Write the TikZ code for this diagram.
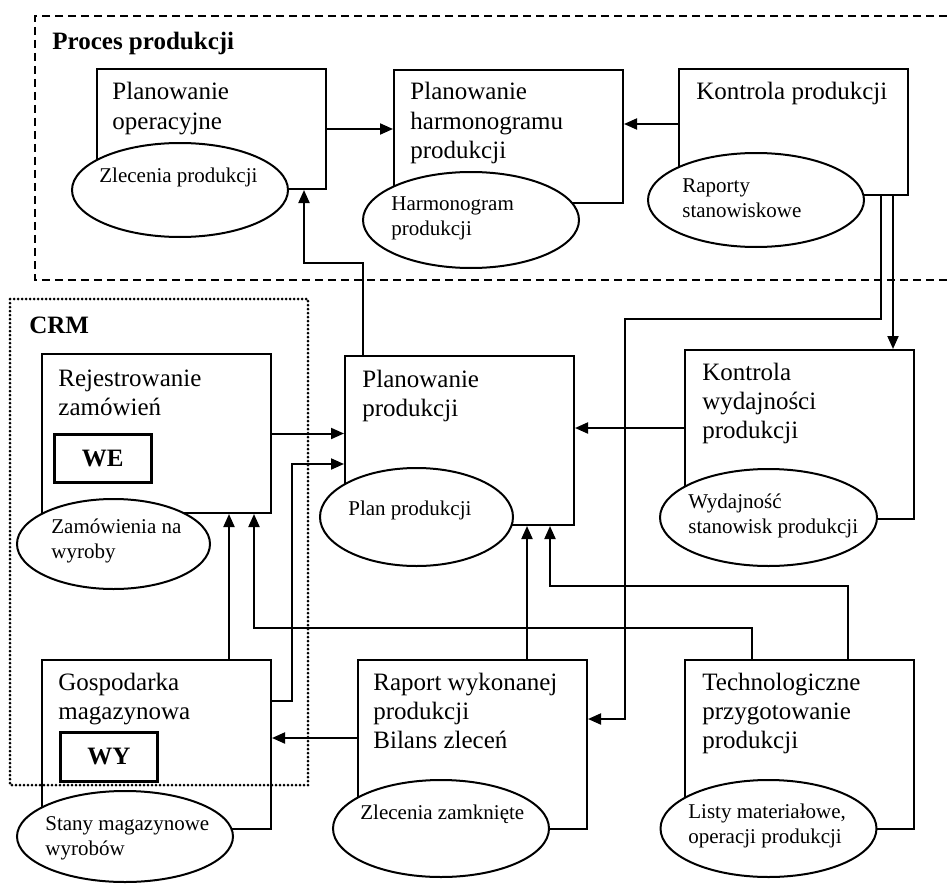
\documentclass[tikz,border=0pt]{standalone}
\usepackage{fontspec}
\setmainfont{Liberation Serif}
\usetikzlibrary{arrows.meta,shapes.geometric}

\newcommand\bigtxt{\fontsize{12.5}{14.5}\selectfont}
\newcommand\smalltxt{\fontsize{10.5}{12.5}\selectfont}

\begin{document}
\begin{tikzpicture}[x=0.5pt,y=-0.5pt,
  proc/.style={draw, line width=1pt, rectangle, anchor=north west, inner sep=0pt, minimum width=114.5pt},
  store/.style={draw, line width=1pt, ellipse, fill=white, inner sep=0pt},
  title/.style={anchor=base west, inner sep=0pt, align=left, font=\bigtxt},
  note/.style={anchor=base west, inner sep=0pt, align=left, font=\smalltxt},
  header/.style={anchor=base west, inner sep=0pt, font=\bigtxt\bfseries},
  tag/.style={draw, line width=1.3pt, anchor=north west, inner sep=0pt, minimum width=48.5pt, font=\bigtxt\bfseries},
  flow/.style={line width=1pt, -{Triangle[length=6.5pt,width=5.5pt]}},
]
\useasboundingbox (0,0) rectangle (947,883);

% group frames
\draw[line width=1pt, dash pattern=on 4pt off 2.5pt] (947,16) -- (35,16) -- (35,280) -- (947,280);
\draw[line width=1.5pt, line cap=round, dash pattern=on 0pt off 2pt] (10,299) rectangle (308,785);
\node[header] (h_proc) at (52,50) {Proces produkcji};
\node[header] (h_crm) at (29,333) {CRM};

% process boxes
\node[proc, minimum height=60pt]   (po) at (96,68)   {};
\node[proc, minimum height=66.5pt] (ph) at (393,69)  {};
\node[proc, minimum height=63pt]   (kp) at (678,68)  {};
\node[proc, minimum height=79.5pt] (rz) at (41,353)  {};
\node[proc, minimum height=84.5pt] (pp) at (344,355) {};
\node[proc, minimum height=84.5pt] (kw) at (684,349) {};
\node[proc, minimum height=84.5pt] (gm) at (41,659)  {};
\node[proc, minimum height=84.5pt] (rw) at (357,659) {};
\node[proc, minimum height=84.5pt] (tp) at (684,659) {};

\node[tag, minimum height=24pt]   (we) at (53,433) {WE};
\node[tag, minimum height=24.5pt] (wy) at (59,731) {WY};

% data stores
\node[store, minimum width=108pt,   minimum height=47pt]   (e_po) at (180,190)     {};
\node[store, minimum width=108pt,   minimum height=48pt]   (e_ph) at (471,220)     {};
\node[store, minimum width=108pt,   minimum height=47pt]   (e_kp) at (756,200)     {};
\node[store, minimum width=108.5pt, minimum height=48.5pt] (e_kw) at (768.5,517.5) {};
\node[store, minimum width=96.5pt,  minimum height=49pt]   (e_pp) at (416.5,517)   {};
\node[store, minimum width=96.5pt,  minimum height=45pt]   (e_rz) at (113.5,544)   {};
\node[store, minimum width=108pt,   minimum height=45.5pt] (e_gm) at (125,836.5)   {};
\node[store, minimum width=108pt,   minimum height=48.5pt] (e_rw) at (441,828.5)   {};
\node[store, minimum width=108pt,   minimum height=48.5pt] (e_tp) at (768.5,828.5) {};

% box titles (placed at the baseline of their last line)
\node[title] (t_po) at (112,129) {Planowanie\\operacyjne};
\node[title] (t_ph) at (410,158) {Planowanie\\harmonogramu\\produkcji};
\node[title] (t_kp) at (696,100) {Kontrola produkcji};
\node[title] (t_rz) at (58,415)  {Rejestrowanie\\zamówień};
\node[title] (t_pp) at (362,416) {Planowanie\\produkcji};
\node[title] (t_kw) at (702,438) {Kontrola\\wydajności\\produkcji};
\node[title] (t_gm) at (58,719)  {Gospodarka\\magazynowa};
\node[title] (t_rw) at (373,748) {Raport wykonanej\\produkcji\\Bilans zleceń};
\node[title] (t_tp) at (702,748) {Technologiczne\\przygotowanie\\produkcji};

% store labels
\node[note] (n_po) at (99,182)  {Zlecenia produkcji};
\node[note] (n_ph) at (391,235) {Harmonogram\\produkcji};
\node[note] (n_kp) at (682,217) {Raporty\\stanowiskowe};
\node[note] (n_kw) at (688,533) {Wydajność\\stanowisk produkcji};
\node[note] (n_pp) at (348,515) {Plan produkcji};
\node[note] (n_rz) at (51,558)  {Zamówienia na\\wyroby};
\node[note] (n_gm) at (45,855)  {Stany magazynowe\\wyrobów};
\node[note] (n_rw) at (360,819) {Zlecenia zamknięte};
\node[note] (n_tp) at (688,843) {Listy materiałowe,\\operacji produkcji};

% flows
\draw[flow] (po.east) -- (po.east -| ph.west);
\draw[flow] ([yshift=4pt]kp.west) -- ([yshift=4pt]kp.west -| ph.east);
\draw[flow] ([xshift=9.5pt]pp.north west) -- ++(0,-92) -| ([xshift=-11.5pt]po.south east);
\draw[flow] ([xshift=-14pt]kp.south east) -- ++(0,123) -- ++(-256,0) |- ([yshift=12.75pt]rw.east);
\coordinate (k2) at ([xshift=-8pt]kp.south east);
\draw[flow] (k2) -- (k2 |- kw.north);
\draw[flow] ([yshift=3.25pt]kw.west) -- ([yshift=3.25pt]kw.west -| pp.east);
\draw[flow] (rz.east) -- (rz.east -| pp.west);
\draw[flow] ([yshift=21.75pt]gm.east) -- ++(20,0) |- ([yshift=-11.75pt]pp.west);
\coordinate (g1) at ([xshift=94pt]gm.north west);
\draw[flow] (g1) -- (g1 |- rz.south);
\draw[flow] ([xshift=34pt]tp.north west) -- ++(0,-31) -| ([xshift=106.5pt]rz.south west);
\coordinate (r1) at ([xshift=85pt]rw.north west);
\draw[flow] (r1) -- (r1 |- pp.south);
\draw[flow] ([xshift=82pt]tp.north west) -- ++(0,-73) -| ([xshift=103pt]pp.south west);
\draw[flow] ([yshift=3.25pt]rw.west) -- ([yshift=3.25pt]rw.west -| gm.east);
\end{tikzpicture}
\end{document}
